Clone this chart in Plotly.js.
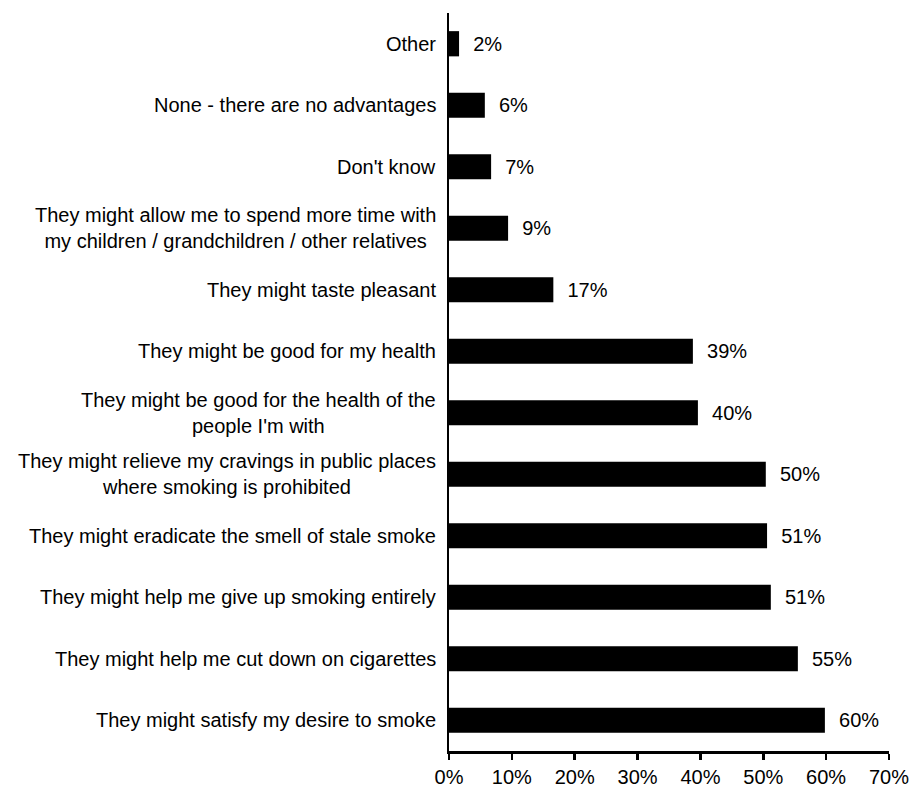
<!DOCTYPE html>
<html>
<head>
<meta charset="utf-8">
<script src="https://cdn.plot.ly/plotly-3.0.1.min.js"></script>
<style>html,body{margin:0;padding:0;background:#fff;}#chart{width:910px;height:786px;}</style>
</head>
<body>
<div id="chart"></div>
<script>
var categories = [
  "Other",
  "None - there are no advantages",
  "Don't know",
  "They might allow me to spend more time with<br>my children / grandchildren / other relatives",
  "They might taste pleasant",
  "They might be good for my health",
  "They might be good for the health of the<br>people I'm with",
  "They might relieve my cravings in public places<br>where smoking is prohibited",
  "They might eradicate the smell of stale smoke",
  "They might help me give up smoking entirely",
  "They might help me cut down on cigarettes",
  "They might satisfy my desire to smoke"
];
var values = [1.6, 5.7, 6.7, 9.4, 16.6, 38.8, 39.6, 50.4, 50.6, 51.2, 55.5, 59.8];
var valueLabels = ["2%", "6%", "7%", "9%", "17%", "39%", "40%", "50%", "51%", "51%", "55%", "60%"];
var xTicks = [0, 10, 20, 30, 40, 50, 60, 70];
var xTickLabels = ["0%", "10%", "20%", "30%", "40%", "50%", "60%", "70%"];

var FONT = "Liberation Sans, Arial, sans-serif";
var FS = 20;

var trace = {
  type: "bar",
  orientation: "h",
  y: categories,
  x: values,
  text: valueLabels.map(function(t){ return "\u00a0\u00a0" + t; }),
  textposition: "outside",
  cliponaxis: false,
  textfont: {family: FONT, size: FS, color: "#000"},
  marker: {color: "#000", line: {width: 0}},
  width: 0.41,
  hoverinfo: "none"
};

var annotations = categories.map(function(c){
  return {
    xref: "paper", yref: "y", x: 0, y: c,
    xanchor: "right", yanchor: "middle",
    xshift: -11, align: "center",
    text: c, showarrow: false,
    font: {family: FONT, size: FS, color: "#000"}
  };
});

var layout = {
  width: 910, height: 786,
  margin: {l: 449, r: 21, t: 13, b: 35},
  paper_bgcolor: "#fff", plot_bgcolor: "#fff",
  showlegend: false,
  font: {family: FONT, size: FS, color: "#000"},
  xaxis: {
    range: [0, 70],
    tickvals: xTicks, ticktext: xTickLabels,
    showgrid: false, zeroline: false,
    showline: true, linecolor: "#000", linewidth: 2.5,
    ticks: "outside", ticklen: 6, tickwidth: 2.5, tickcolor: "#000",
    tickfont: {family: FONT, size: FS, color: "#000"},
    fixedrange: true
  },
  yaxis: {
    autorange: "reversed",
    showticklabels: false,
    showgrid: false, zeroline: false,
    showline: true, linecolor: "#000", linewidth: 2.5,
    ticks: "",
    fixedrange: true
  },
  annotations: annotations
};

Plotly.newPlot("chart", [trace], layout, {displayModeBar: false, staticPlot: true});
</script>
</body>
</html>
